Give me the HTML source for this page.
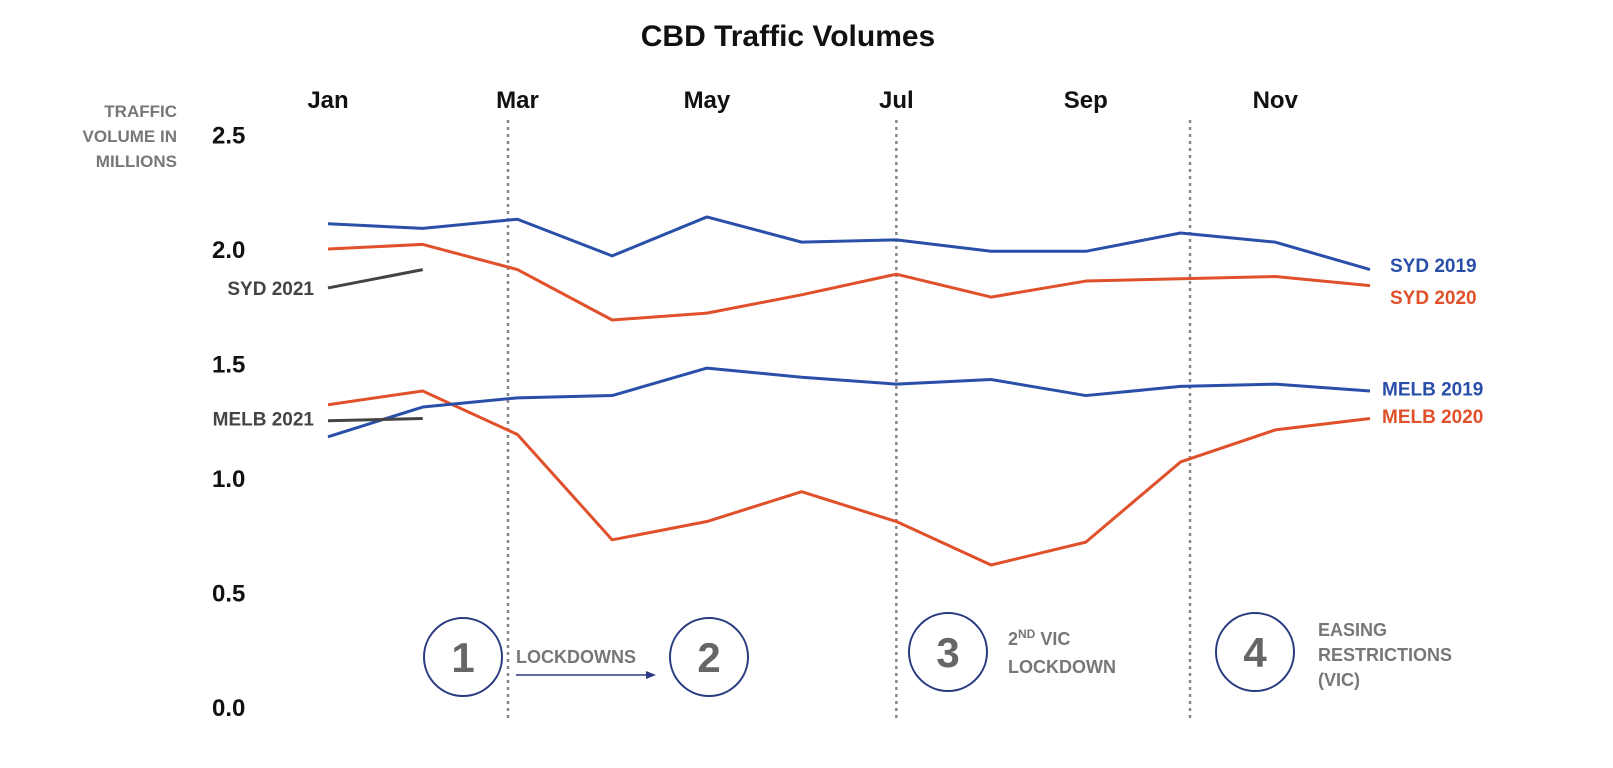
<!DOCTYPE html>
<html><head><meta charset="utf-8">
<style>
html,body{margin:0;padding:0;background:#fff;}
svg{display:block;font-family:"Liberation Sans",sans-serif;font-weight:bold;}
</style></head>
<body>
<svg id="chart" width="1613" height="768" viewBox="0 0 1613 768">
<text x="788" y="46" text-anchor="middle" font-size="30" fill="#111">CBD Traffic Volumes</text>
<text text-anchor="end" font-size="17" fill="#777"><tspan x="177" y="117">TRAFFIC</tspan><tspan x="177" y="142">VOLUME IN</tspan><tspan x="177" y="167">MILLIONS</tspan></text>
<g id="grid"></g><g id="axes"></g><g id="series"></g><g id="annot"></g>
</svg>
<script>
const months = ["Jan","Feb","Mar","Apr","May","Jun","Jul","Aug","Sep","Oct","Nov","Dec"];
const monthLabels = ["Jan","Mar","May","Jul","Sep","Nov"];
const yTicks = [0.0,0.5,1.0,1.5,2.0,2.5];
const syd2019 = [2.11,2.09,2.13,1.97,2.14,2.03,2.04,1.99,1.99,2.07,2.03,1.91];
const syd2020 = [2.00,2.02,1.91,1.69,1.72,1.80,1.89,1.79,1.86,1.87,1.88,1.84];
const melb2019 = [1.18,1.31,1.35,1.36,1.48,1.44,1.41,1.43,1.36,1.40,1.41,1.38];
const melb2020 = [1.32,1.38,1.19,0.73,0.81,0.94,0.81,0.62,0.72,1.07,1.21,1.26];
const syd2021 = [1.83,1.91];
const melb2021 = [1.25,1.26];
const lockdownMonths = [1.9,6,9.1];

const NS="http://www.w3.org/2000/svg";
const x = i => 328 + i*(1370-328)/11;
const y = v => 707 - v*229;
function mk(tag, attrs, parent, text){
  const e=document.createElementNS(NS,tag);
  for(const k in attrs) e.setAttribute(k,attrs[k]);
  if(text!==undefined) e.textContent=text;
  document.getElementById(parent).appendChild(e);
  return e;
}
yTicks.forEach(t=>{
  const e=mk("text",{x:212,y:y(t)+9,"font-size":24,fill:"#111"},"axes",t.toFixed(1));
  
  
});
monthLabels.forEach(m=>{
  const e=mk("text",{x:x(months.indexOf(m)),y:108,"text-anchor":"middle","font-size":24,fill:"#111"},"axes",m);
  
  
});
lockdownMonths.forEach(m=>{
  const e=mk("line",{x1:x(m),x2:x(m),y1:120,y2:718,stroke:"#888","stroke-width":2.5,"stroke-dasharray":"3,4"},"grid");
  
  
});
function series(vals,color,name){
  const e=mk("polyline",{points:vals.map((v,i)=>x(i)+","+y(v)).join(" "),fill:"none",stroke:color,"stroke-width":3,"stroke-linejoin":"round"},"series");
  
  
}
series(melb2020,"#E0502A","line-melb-2020");
series(melb2019,"#2A4FA8","line-melb-2019");
series(syd2020,"#E0502A","line-syd-2020");
series(syd2019,"#2A4FA8","line-syd-2019");
series(syd2021,"#444","line-syd-2021");
series(melb2021,"#444","line-melb-2021");
function lbl(txt,xx,v,color,anchor,name){
  const e=mk("text",{x:xx,y:y(v)+7,"font-size":19,fill:color,"text-anchor":anchor},"annot",txt);
  
  
}
lbl("SYD 2019",1390,syd2019[11]+0.02,"#2A4FA8","start","label-syd-2019");
lbl("SYD 2020",1390,syd2020[11]-0.05,"#E0502A","start","label-syd-2020");
lbl("MELB 2019",1382,melb2019[11]+0.01,"#2A4FA8","start","label-melb-2019");
lbl("MELB 2020",1382,melb2020[11]+0.01,"#E0502A","start","label-melb-2020");
lbl("SYD 2021",314,syd2021[0],"#444","end","label-syd-2021");
lbl("MELB 2021",314,melb2021[0]+0.01,"#444","end","label-melb-2021");
[[463,657,"1"],[709,657,"2"],[948,652,"3"],[1255,652,"4"]].forEach(c=>{
  const g=mk("circle",{cx:c[0],cy:c[1],r:39,fill:"#fff",stroke:"#2A3A80","stroke-width":2},"annot");
  
  
  const t=mk("text",{x:c[0],y:c[1]+15,"text-anchor":"middle","font-size":42,fill:"#666"},"annot",c[2]);
  
  
});
const an=document.getElementById("annot");
an.insertAdjacentHTML("beforeend",
 '<text x="516" y="663" font-size="18" fill="#777">LOCKDOWNS</text>'+
 '<line x1="516" y1="675" x2="652" y2="675" stroke="#2A3A80" stroke-width="1.5"/>'+
 '<path d="M646,671 L656,675 L646,679 Z" fill="#2A3A80"/>'+
 '<text font-size="18" fill="#777"><tspan x="1008" y="645">2<tspan font-size="12" dy="-7">ND</tspan><tspan dy="7"> VIC</tspan></tspan><tspan x="1008" y="673">LOCKDOWN</tspan></text>'+
 '<text font-size="18" fill="#777"><tspan x="1318" y="636">EASING</tspan><tspan x="1318" y="661">RESTRICTIONS</tspan><tspan x="1318" y="686">(VIC)</tspan></text>');
</script>
</body></html>
